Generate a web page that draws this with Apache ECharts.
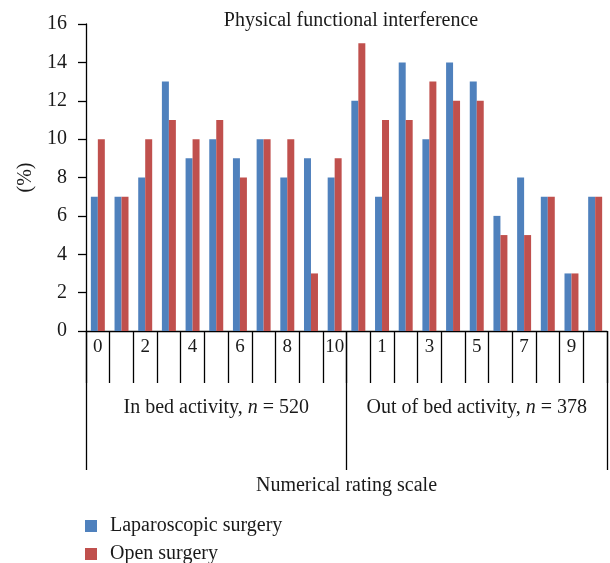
<!DOCTYPE html>
<html>
<head>
<meta charset="utf-8">
<script src="https://cdn.jsdelivr.net/npm/echarts@6/dist/echarts.min.js"></script>
<style>html,body{margin:0;padding:0;background:#fff}#c{width:610px;height:563px}</style>
</head>
<body>
<div id="c"></div>
<script>
// ---- data ----
var scaleValues = [0, 1, 2, 3, 4, 5, 6, 7, 8, 9, 10];
var groupNames = ['In bed activity', 'Out of bed activity'];
var groupN = [520, 378];
var inBedLap  = [7, 7, 8, 13, 9, 10, 9, 10, 8, 9, 8];
var inBedOpen = [10, 7, 10, 11, 10, 11, 8, 10, 10, 3, 9];
var outBedLap  = [12, 7, 14, 10, 14, 13, 6, 8, 7, 3, 7];
var outBedOpen = [15, 11, 11, 13, 12, 12, 5, 5, 7, 3, 7];
var tickLabels = ['0', '', '2', '', '4', '', '6', '', '8', '', '10',
                  '', '1', '', '3', '', '5', '', '7', '', '9', ''];
var seriesNames = ['Laparoscopic surgery', 'Open surgery'];
var yTicks = [0, 2, 4, 6, 8, 10, 12, 14, 16];

var categories = scaleValues.map(function (v) { return 'in-' + v; })
  .concat(scaleValues.map(function (v) { return 'out-' + v; }));
var lapData = inBedLap.concat(outBedLap);
var openData = inBedOpen.concat(outBedOpen);

var FONT = 'Liberation Serif';
var chart = echarts.init(document.getElementById('c'), null, {renderer: 'canvas'});
chart.setOption({
  animation: false,
  textStyle: {fontFamily: FONT, color: '#1a1a1a'},
  title: {
    text: 'Physical functional interference',
    left: 346, top: 6, textAlign: 'center',
    textStyle: {fontFamily: FONT, fontSize: 20, fontWeight: 'normal', color: '#1a1a1a'}
  },
  legend: {
    orient: 'vertical', left: 85, top: 516, height: 100, padding: 0,
    itemWidth: 12, itemHeight: 12, itemGap: 8, icon: 'rect',
    data: seriesNames,
    textStyle: {fontFamily: FONT, fontSize: 20, color: '#1a1a1a', padding: [0, 0, 0, 8]}
  },
  grid: {left: 86, right: 3, top: 24, bottom: 232, containLabel: false},
  xAxis: [{
    type: 'category', data: categories, position: 'bottom',
    axisLine: {show: true, lineStyle: {color: '#000', width: 1.3}},
    axisTick: {show: true, interval: 0, length: 52, lineStyle: {color: '#000', width: 1.3}},
    axisLabel: {
      interval: 0, margin: 7, fontFamily: FONT, fontSize: 19, color: '#1a1a1a',
      formatter: function (v, i) { return tickLabels[i]; }
    },
    splitLine: {show: false}
  }, {
    type: 'category', data: groupNames, position: 'bottom',
    axisLine: {show: false},
    axisTick: {show: true, interval: 0, length: 139, lineStyle: {color: '#000', width: 1.3}},
    axisLabel: {
      interval: 0, margin: 67, fontFamily: FONT, fontSize: 20, color: '#1a1a1a',
      formatter: function (v, i) { return v + ', {i|n} = ' + groupN[i]; },
      rich: {i: {fontStyle: 'italic', fontFamily: FONT, fontSize: 20, color: '#1a1a1a'}}
    },
    name: 'Numerical rating scale', nameLocation: 'middle', nameGap: 145,
    nameTextStyle: {fontFamily: FONT, fontSize: 20, color: '#1a1a1a'},
    splitLine: {show: false}
  }],
  yAxis: {
    type: 'value', min: yTicks[0], max: yTicks[yTicks.length - 1], interval: 2,
    axisLine: {show: true, lineStyle: {color: '#000', width: 1.3}},
    axisTick: {show: true, length: 8, lineStyle: {color: '#000', width: 1.3}},
    axisLabel: {margin: 19, fontFamily: FONT, fontSize: 20, color: '#1a1a1a'},
    splitLine: {show: false},
    name: '(%)', nameLocation: 'middle', nameGap: 50, nameRotate: 90,
    nameTextStyle: {fontFamily: FONT, fontSize: 20, color: '#1a1a1a'}
  },
  series: [{
    name: seriesNames[0], type: 'bar', xAxisIndex: 0, data: lapData,
    itemStyle: {color: '#4F81BD'}, barGap: '0%', barCategoryGap: '41%'
  }, {
    name: seriesNames[1], type: 'bar', xAxisIndex: 0, data: openData,
    itemStyle: {color: '#C0504D'}, barGap: '0%', barCategoryGap: '41%'
  }]
});
</script>
</body>
</html>
